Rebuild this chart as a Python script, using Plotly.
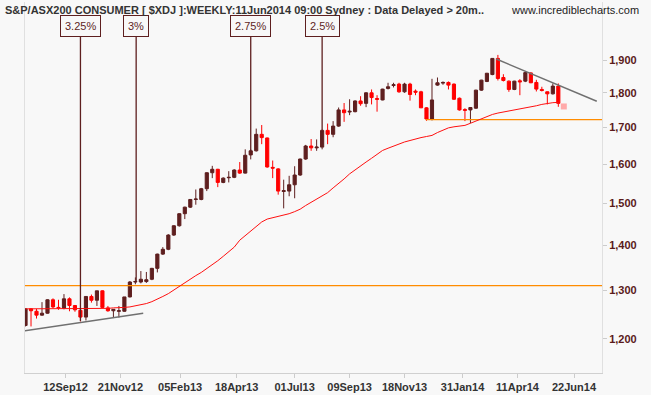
import plotly.graph_objects as go
import pandas as pd

# ---------------- data ----------------
first_week = "2012-07-23"
n_weeks = 98

opens = [1227,1261,1256,1248,1252,1280,1264,1262,1282,1268,
         1258,1244,1287,1279,1299,1263,1257,1256,1256,1286,
         1318,1318,1319,1324,1348,1380,1391,1424,1446,1475,
         1491,1510,1510,1537,1578,1587,1553,1565,1566,1585,
         1577,1625,1636,1681,1671,1592,1588,1530,1531,1547,
         1572,1614,1649,1644,1646,1692,1681,1704,1750,1744,
         1745,1776,1769,1800,1783,1779,1813,1822,1826,1803,
         1826,1805,1803,1756,1724,1823,1829,1831,1826,1784,
         1751,1750,1755,1808,1834,1855,1905,1846,1835,1810,
         1836,1835,1860,1831,1810,1803,1797,1820]
highs = [1262,1262,1261,1275,1281,1283,1280,1292,1285,1269,
         1263,1287,1291,1299,1300,1267,1260,1267,1286,1320,
         1328,1342,1340,1349,1381,1396,1426,1447,1476,1492,
         1511,1535,1539,1579,1596,1588,1566,1582,1587,1606,
         1640,1640,1697,1707,1672,1610,1590,1560,1570,1595,
         1615,1652,1668,1667,1694,1711,1718,1757,1770,1781,
         1778,1790,1802,1810,1793,1812,1830,1830,1830,1830,
         1830,1810,1806,1758,1842,1846,1834,1834,1828,1786,
         1755,1758,1809,1839,1860,1906,1916,1856,1837,1836,
         1841,1866,1862,1839,1818,1804,1828,1828]
lows = [1225,1225,1241,1247,1251,1262,1259,1260,1256,1255,
        1235,1237,1274,1267,1263,1255,1242,1243,1255,1285,
        1313,1315,1316,1322,1339,1378,1389,1422,1444,1462,
        1489,1497,1508,1531,1564,1541,1551,1553,1564,1575,
        1576,1613,1634,1654,1591,1564,1522,1488,1518,1513,
        1570,1612,1636,1636,1640,1654,1673,1702,1716,1735,
        1743,1762,1758,1766,1745,1778,1810,1816,1800,1800,
        1777,1793,1756,1719,1720,1821,1824,1810,1779,1748,
        1718,1712,1753,1806,1832,1853,1837,1834,1803,1808,
        1793,1832,1829,1804,1804,1766,1795,1759]
closes = [1261,1257,1248,1252,1280,1265,1263,1282,1268,1259,
          1244,1287,1279,1299,1264,1257,1260,1257,1286,1318,
          1319,1324,1323,1348,1380,1391,1424,1446,1475,1491,
          1510,1511,1537,1578,1587,1553,1564,1566,1585,1577,
          1624,1636,1681,1672,1593,1590,1531,1532,1547,1572,
          1614,1649,1644,1646,1692,1681,1704,1750,1742,1746,
          1776,1768,1800,1786,1781,1811,1818,1824,1803,1826,
          1795,1802,1756,1724,1779,1830,1831,1823,1781,1750,
          1749,1757,1808,1838,1859,1905,1843,1837,1810,1835,
          1833,1861,1830,1811,1807,1797,1820,1769]
moving_avg = [1261,1261,1261,1262,1262,1262,1262,1262,1262,1262,
              1262,1262,1262,1262,1262,1262,1263,1263,1264,1265,
              1267,1269,1272,1276,1281,1287,1293,1301,1309,1317,
              1324,1332,1339,1347,1356,1365,1375,1385,1396,1412,
              1423,1434,1446,1455,1462,1465,1468,1471,1475,1480,
              1486,1495,1503,1511,1518,1527,1539,1550,1562,1575,
              1586,1596,1606,1616,1626,1637,1643,1649,1655,1660,
              1664,1669,1672,1675,1678,1686,1692,1699,1702,1704,
              1706,1712,1718,1726,1732,1737,1741,1744,1747,1749,
              1751,1754,1758,1762,1766,1769,1771,1772]

current_date = ["2014-06-09"]
current_price = [1760]

# RBA rate-cut markers
cut_labels = ["3.25%", "3%", "2.75%", "2.5%"]
cut_dates = ["2012-10-01", "2012-12-11", "2013-05-06", "2013-08-05"]
cut_price = [1236, 1320, 1630, 1692]
cut_top = 1973

# trend lines
low_trend_dates = ["2012-07-22", "2012-12-20"]
low_trend_vals = [1216, 1252]
high_trend_dates = ["2014-03-15", "2014-07-21"]
high_trend_vals = [1903, 1775]

# horizontal support lines
support_low = 1310
support_low_dates = ["2012-07-20", "2014-07-30"]
support_high = 1722
support_high_dates = ["2013-12-15", "2014-07-30"]

x_ticks = ["2012-09-12", "2012-11-21", "2013-02-05", "2013-04-18", "2013-07-01",
           "2013-09-09", "2013-11-18", "2014-01-31", "2014-04-11", "2014-06-22"]
x_labels = ["12Sep12", "21Nov12", "05Feb13", "18Apr13", "01Jul13",
            "09Sep13", "18Nov13", "31Jan14", "11Apr14", "22Jun14"]
y_ticks = [1200, 1300, 1400, 1500, 1600, 1700, 1800, 1900]
y_labels = ["1,200", "1,300", "1,400", "1,500", "1,600", "1,700", "1,800", "1,900"]

title_text = "S&P/ASX200 CONSUMER [ $XDJ ]:WEEKLY:11Jun2014 09:00 Sydney : Data Delayed > 20m.."
site_text = "www.incrediblecharts.com"

# ---------------- figure ----------------
UP = "#5e1f1f"
DOWN = "#ff0000"
FONT = "Arial, Liberation Sans, sans-serif"

dates = pd.date_range(first_week, periods=n_weeks, freq="7D")

fig = go.Figure()

fig.add_trace(go.Scatter(x=support_low_dates, y=[support_low, support_low], mode="lines",
                         line=dict(color="#ff8c00", width=1.2), hoverinfo="skip", showlegend=False))
fig.add_trace(go.Scatter(x=support_high_dates, y=[support_high, support_high], mode="lines",
                         line=dict(color="#ff8c00", width=1.2), hoverinfo="skip", showlegend=False))

fig.add_trace(go.Scatter(x=dates, y=moving_avg, mode="lines",
                         line=dict(color="#ff1010", width=1), hoverinfo="skip", showlegend=False))

for d, p in zip(cut_dates, cut_price):
    fig.add_trace(go.Scatter(x=[d, d], y=[p, cut_top], mode="lines",
                             line=dict(color=UP, width=1.3), hoverinfo="skip", showlegend=False))

fig.add_trace(go.Candlestick(
    x=dates, open=opens, high=highs, low=lows, close=closes,
    increasing=dict(line=dict(color=UP, width=1), fillcolor=UP),
    decreasing=dict(line=dict(color=DOWN, width=1), fillcolor=DOWN),
    whiskerwidth=0, showlegend=False, hoverinfo="skip"))

fig.add_trace(go.Scatter(x=current_date, y=current_price, mode="markers",
                         marker=dict(symbol="square", size=6, color="#ffaaaa"),
                         hoverinfo="skip", showlegend=False))

fig.add_trace(go.Scatter(x=low_trend_dates, y=low_trend_vals, mode="lines",
                         line=dict(color="#707070", width=1.5), hoverinfo="skip", showlegend=False))
fig.add_trace(go.Scatter(x=high_trend_dates, y=high_trend_vals, mode="lines",
                         line=dict(color="#707070", width=1.5), hoverinfo="skip", showlegend=False))

annotations = []
for lab, d in zip(cut_labels, cut_dates):
    annotations.append(dict(x=d, xref="x", y=(373 - 26) / 371, yref="paper",
                            text=lab, showarrow=False, xanchor="center", yanchor="middle",
                            font=dict(family=FONT, size=11, color=UP),
                            bordercolor=UP, borderwidth=1, borderpad=4, bgcolor="#f8f8f8"))
annotations.append(dict(x=(3 - 25) / 577, xref="paper", y=(373 - 10) / 371, yref="paper",
                        text=title_text, showarrow=False, xanchor="left", yanchor="middle",
                        font=dict(family=FONT, size=11, color="#333333", weight="bold")))
annotations.append(dict(x=(641 - 25) / 577, xref="paper", y=(373 - 10) / 371, yref="paper",
                        text=site_text, showarrow=False, xanchor="right", yanchor="middle",
                        font=dict(family=FONT, size=11, color="#222222")))

fig.update_layout(
    width=651, height=395,
    margin=dict(l=25, r=49, t=2, b=22),
    paper_bgcolor="#f8f8f8", plot_bgcolor="#f8f8f8",
    showlegend=False,
    boxgap=0.18,
    annotations=annotations,
    xaxis=dict(type="date", range=["2012-07-22 08:00", "2014-07-27 16:00"],
               rangeslider=dict(visible=False),
               tickvals=x_ticks, ticktext=x_labels,
               ticks="outside", ticklen=4, tickcolor="#cccccc",
               showline=True, linecolor="#d0d0d0", linewidth=1,
               showgrid=False, zeroline=False,
               tickfont=dict(family=FONT, size=11, color="#333333", weight="bold")),
    yaxis=dict(type="log", range=[3.054815, 3.320251], side="right",
               tickvals=y_ticks, ticktext=y_labels,
               ticks="outside", ticklen=4, tickcolor="#cccccc",
               showline=True, mirror=True, linecolor="#e0e0e0", linewidth=1,
               showgrid=False, zeroline=False,
               tickfont=dict(family=FONT, size=11, color="#5a1a1a", weight="bold")),
)

fig.write_html("out.html", config={"displayModeBar": False},
               post_script="document.body.style.margin='0px';document.body.style.background='#f8f8f8';")
